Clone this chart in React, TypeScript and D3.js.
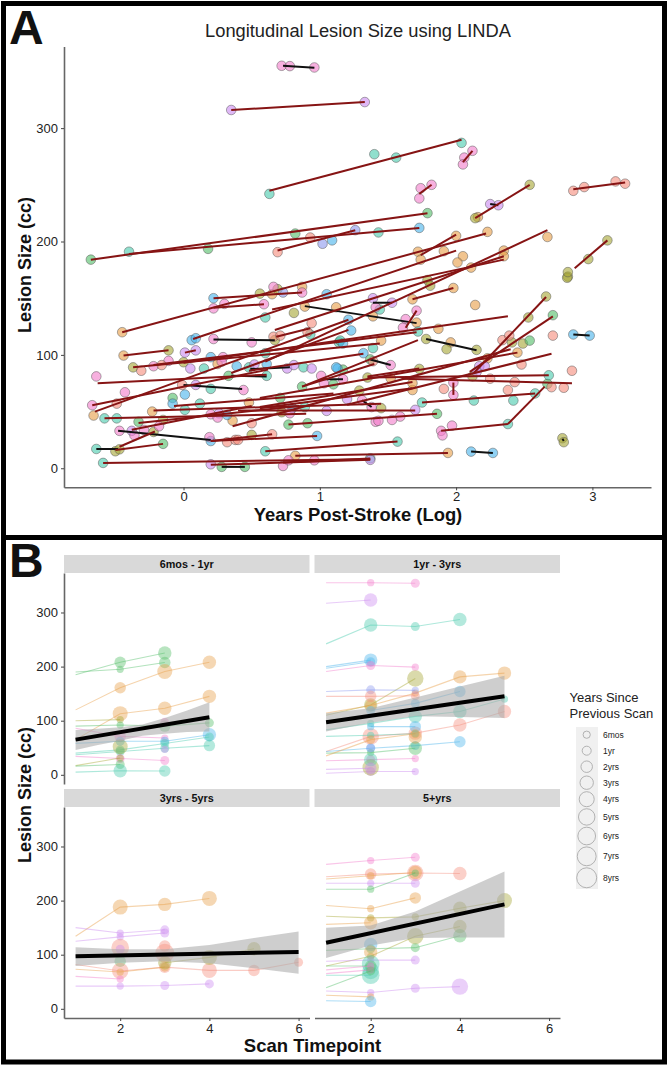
import React, { useRef, useEffect } from "react";
import * as d3 from "d3";

type Scan = [number, number];
type Fit = [number, number, number, number];
type Track = [string, (number | null)[], number[]];
type Band = [number, number, number];

// panel A: [log years post-stroke, lesion size], grouped by subject hue
const orangeScans: Scan[] = [[-0.45,120],[0.65,153.5],[0.87,160],[0.89,142.6],[1.12,142],[-0.44,99.4],[0.25,92],[-0.66,46.5],[0.48,58],[1.68,149],[1.98,159],[2.14,144],[1.39,134],[1.71,128.5],[1.87,123],[1.45,112.6],[1.96,111],[2.45,102],[2.23,97],[1.52,79.4],[1.68,69],[1.68,75],[1.94,13.5],[0.82,11],[0.36,42],[-0.23,50],[2.0,205],[2.23,208.5],[1.72,191],[1.74,184],[1.91,191.5],[2.05,187],[2.01,181.5],[2.11,177],[2.35,192],[2.35,187],[2.67,204],[2.16,221.5]];
const oliveScans: Scan[] = [[-0.11,104],[-0.37,89],[0.56,154],[0.69,158],[0.67,113],[0.81,137],[0,93.5],[0.72,49.4],[-0.15,42.6],[-0.22,32],[0.5,29.4],[-0.5,15],[1.79,166],[1.81,161],[2.82,169],[2.815,168],[2.66,151.5],[2.53,133],[1.78,114],[1.93,105],[2.15,104.4],[2.41,111],[2.49,110],[2.12,81],[1.35,80],[1.73,87.6],[1.29,68.5],[1.45,53],[2.78,26.5],[2.79,23],[3.11,201],[2.97,184.5],[2.82,173],[2.54,250],[2.14,220.6],[-0.47,16.7]];
const greenScans: Scan[] = [[-0.68,184],[0.18,193.5],[0.82,207],[1.79,225],[0.33,81.5],[0.87,72],[1.1,74],[-0.08,62],[0.71,62],[-0.33,41],[0.77,38.5],[0.91,39.7],[-0.15,21.5],[0.28,1.2],[0.45,1.2],[1.86,48],[1.37,96],[1.17,87],[2.71,135],[2.54,112.6],[2.67,74.4]];
const tealScans: Scan[] = [[0.63,242],[2.04,287],[1.4,277],[1.56,274],[-0.4,191],[1.43,208],[0.6,133],[0.93,118],[1.14,111],[0.6,101.5],[0.15,88],[0.48,89],[0.88,89],[0.61,81.5],[0.12,57],[0.01,51.5],[0.89,54],[-0.49,44],[-0.58,44],[0.2,70],[-0.64,17],[-0.59,4.7],[0.6,15],[1.44,140],[1.72,120.6],[1.15,112.6],[1.39,106],[2.68,82],[2.58,66],[2.42,59.7],[2.13,59.7],[1.75,58],[2.38,39],[1.57,23.5],[1.37,8.8]];
const blueScans: Scan[] = [[1.73,212],[1.09,201],[0.22,150],[1.05,153.5],[0.06,113],[0.09,114.7],[0.2,98],[0.39,90],[0.61,92],[1.13,88],[0.01,65],[-0.08,57],[0.8,53],[0.32,47],[0.2,24],[0.98,28.5],[1.21,131],[1.23,121.5],[1.17,110],[1.32,101.5],[1.12,89],[2.86,118],[2.98,117],[2.11,14.7],[2.27,13.5]];
const periwinkleScans: Scan[] = [[1.26,210],[1.02,198],[0.73,155]];
const lilacScans: Scan[] = [[0.35,316],[1.33,323],[2.31,232],[2.25,233],[0.01,102],[0.09,104],[0.05,88],[0.52,91.5],[0.76,88],[0.81,91],[0.94,88],[0.09,73.5],[0.26,48.5],[1.05,50.6],[-0.38,33],[1.53,146],[1.39,150],[2.17,90],[2.21,90],[2.15,85],[1.2,61],[1.7,51.5],[0.2,3.5],[1.37,7.4]];
const pinkScans: Scan[] = [[0.72,355],[0.78,354.7],[0.96,353.5],[2.12,280],[2.06,274],[2.05,268],[1.82,250],[1.74,247],[1.73,238],[0.22,141],[0.3,145],[0.59,144.7],[0.66,160],[0.87,155],[0.22,114],[0.5,111],[0.29,98],[-0.22,90],[-0.11,94.7],[0.28,94],[-0.64,81],[1.01,81.5],[1.03,75],[-0.43,67],[0.44,69],[-0.67,55.6],[0.2,47.6],[0.25,44.7],[0.78,48.5],[-0.47,33],[-0.29,33.8],[-0.36,29],[-0.18,37],[0.19,27.4],[0.73,2],[0.77,7],[0.96,7],[1.71,139],[1.63,131.5],[1.61,124],[1.41,142],[1.52,91],[1.17,78.5],[1.98,75.6],[1.98,64.7],[1.31,60],[1.38,54],[1.59,45.6],[1.53,42.6],[1.41,41],[1.43,41.8],[1.97,37.6],[1.89,33],[1.9,29]];
const salmonScans: Scan[] = [[0.69,190.6],[0.93,203.5],[2.86,244.7],[2.94,248],[3.17,253],[3.24,251],[0.66,116],[0.71,117],[0.94,128],[0.91,120],[-0.31,86],[-0.16,91],[-0.49,57],[-0.01,73.5],[0.5,39.7],[0.32,23],[0.38,25],[0.4,25],[0.65,30],[1.39,94.4],[2.34,113],[2.39,117],[2.71,117],[2.85,86],[2.48,91.5],[1.91,70],[2.25,79],[2.43,76],[2.38,69],[2.7,71.5],[2.79,71]];

const scansByHue: [string, Scan[]][] = [
  ["orange", orangeScans], ["olive", oliveScans], ["green", greenScans], ["teal", tealScans],
  ["blue", blueScans], ["periwinkle", periwinkleScans], ["lilac", lilacScans], ["pink", pinkScans], ["salmon", salmonScans],
];

// panel A: per-subject fits [x1, y1, x2, y2]
const risingFits: Fit[] = [[-0.45,120,2.22,207],[0.07,114,2.0,192],[1.74,188,2.0,206],[0.6,94,2.67,210],[0.65,140,2.35,184],[0.67,122,2.35,187],[0.22,150,0.87,155],[0.22,141.5,0.59,144.7],[-0.44,99.5,-0.11,104],[0.01,102,0.09,104],[-0.37,89,1.44,110],[-0.22,91,1.71,120],[0,93,2.38,134],[-0.63,75,0.61,82.5],[-0.67,55.5,0.62,87],[-0.65,50,1.21,131],[0.35,84,1.21,122],[0.48,86,1.32,101],[0.87,72,1.72,113],[1.35,81,1.73,88],[1.35,80,2.68,82],[1.6,79,2.85,75],[-0.22,51,1.45,57],[-0.07,55,1.1,66],[-0.58,44,0.9,48],[-0.33,40,0.85,55],[-0.38,34,0.5,55],[0.56,62,2.45,102],[0.56,54,1.68,76],[0.56,53,1.68,70.5],[0.36,37,2.4,105],[1.2,56,2.7,101],[0.4,51,1.7,51],[-0.5,16,-0.15,21.5],[-0.47,19,-0.21,32.4],[0.2,24,0.98,28.5],[0.2,24,0.65,30],[0.77,38.5,1.86,48],[-0.59,4.7,1.37,8],[0.2,3,1.37,7.5],[0.6,15,1.57,23.5],[0.82,11,1.94,13.5],[0.73,5,1.37,8.5],[-0.68,184,1.79,225],[-0.4,189,1.73,212],[0.69,192,1.26,210],[0.63,244.7,2.04,289.7],[0.35,316,1.33,323],[2.05,270,2.12,280],[1.73,242,1.82,250],[2.14,220.6,2.54,250],[2.86,246,3.24,252],[2.87,176.5,3.11,201],[1.68,149,1.98,159],[2.13,84,2.66,151],[2.1,85,2.71,134],[0.68,116,0.93,123.5],[1.75,58,2.58,66],[1.89,33,2.38,39],[2.38,39,2.65,72],[1.98,75.6,1.98,64.7],[1.63,124,1.71,139],[0.87,72,1.4,92]];
const fallingFits: Fit[] = [[0.73,355,0.96,353.3],[-0.64,17,-0.48,17],[-0.48,33,0.2,25],[0.28,1.2,0.45,1.2],[0.22,113.5,0.67,113],[0,73.5,0.43,70],[0.35,81.5,0.61,81],[1.01,78.5,1.17,78.5],[0.89,143,1.71,128],[1.39,146,1.53,146],[1.78,114,2.15,104],[2.11,14.7,2.27,13.5],[2.86,118,2.98,117],[1.37,96,1.52,91],[1.31,60,1.38,54],[2.78,26,2.79,24],[2.25,233,2.31,232],[0.49,87.5,0.78,89]];

const axisTicksA = [0, 100, 200, 300];
const yearTicks = [0, 1, 2, 3];
const timepointTicks = [2, 4, 6];

// panel B: [hue, size at timepoints 1.., years since previous scan from timepoint 2]
const tracks6mos: Track[] = [
  ["green",[185,208,225],[2,3]],["green",[190,195,207.5],[0.5,2]],["orange",[120,161,191,208],[2,4,3]],
  ["orange",[65,113,123,145],[4,3,3]],["olive",[100,102],[0.5]],["green",[90,92,90,96],[0.5,2,1]],
  ["pink",[86,71,68],[2,0.5]],["blue",[58,62,62,74],[1,1,3]],["teal",[40,46,58,70],[1,1,1]],
  ["teal",[37,43,49,54],[1,1,2]],["olive",[null,52],[4]],["pink",[34,30,26.5],[1,1]],["olive",[17,31],[0.5]],
  ["green",[16,19],[1]],["teal",[5,7.5,7],[3,2]],["lilac",[null,null,47],[0.5]],["pink",[null,null,97],[1]],
];
const tracks1yr: Track[] = [
  ["pink",[355,355,354],[0.5,1]],["lilac",[317,323],[3]],["teal",[242,277,274,287],[3,1,3]],
  ["blue",[200,212],[3]],["blue",[197,209],[1]],["pink",[191,202,199],[1,0.5]],["olive",[110,129,178],[3,5]],
  ["orange",[114,128,151,181,188],[2,0.5,3,3]],["periwinkle",[154,157,156],[1,0.5]],["salmon",[145,145,146],[2,1]],
  ["blue",[null,119,132,154],[1,1,2]],["teal",[83,95,108,117,140],[0.5,3,3,0.5]],["salmon",[43,71,77,92,117],[5,3,3,3]],
  ["blue",[43,49,54,61],[1,1,2]],["green",[40,41,49],[0.5,3]],["pink",[26,28,30],[1,0.5]],["lilac",[3,6,6],[1,0.5]],
  ["olive",[null,13.5],[5]],["teal",[null,28],[3]],["orange",[null,null,70],[3]],["blue",[null,89,89],[0.5,2]],
  ["periwinkle",[null,50],[1]],["teal",[71,73,76],[0.5,0.5]],["orange",[35,65,76],[1,1]],["lilac",[10,12],[2]],
];
const tracks3yrs: Track[] = [
  ["orange",[134,188,193,204],[4,3,4]],["lilac",[150,140,146],[0.5,1]],["lilac",[125,133,140],[0.5,1]],
  ["salmon",[null,113],[6]],["salmon",[null,null,103],[7]],["lilac",[null,110],[1]],["green",[null,88],[2]],
  ["salmon",[82,70,77,71,71,86],[5,2,4,2,1]],["orange",[73,68,77],[0.5,1]],["olive",[null,null,85,95,111],[3,4,3]],
  ["lilac",[42,42,43,46],[0.5,1,1]],["pink",[60,55],[0.5]],["salmon",[null,null,116],[2]],
];
const tracks5yrs: Track[] = [
  ["pink",[267,274,280],[0.5,1]],["salmon",[244,249,251,250],[2,5,3]],["orange",[240,246,252],[0.5,3]],
  ["lilac",[232,232,232],[0.5,1]],["green",[221,221,251],[0.5,0.5]],["orange",[191,185,205],[0.5,2]],
  ["olive",[171,168,170,186,200],[0.5,0.5,3,4]],["orange",[156,159],[3]],["olive",[79,97,134,152],[0.5,5,3]],
  ["green",[108,111,113,135],[1,1,3]],["blue",[null,119],[3]],["orange",[null,105],[3]],["lilac",[88,90,90],[0.5,1]],
  ["teal",[null,83],[6]],["teal",[null,70],[5]],["teal",[62,62],[6]],["green",[79,79],[2]],["pink",[65,72],[0.5]],
  ["pink",[72,79],[0.5]],["green",[39,70],[1]],["lilac",[33,30,38,41],[0.5,1,5]],["orange",[25,22],[0.5]],["blue",[15,13.5],[2]],
];

// fitted line and confidence band: [timepoint, low, high]
const fit6mos: [number, number][] = [[1,65],[4,106.5]];
const band6mos: Band[] = [[1,46,83],[1.5,55,85],[2,63,88],[2.5,72,93],[3,76,105],[3.5,79,119],[4,80,134]];
const fit1yr: [number, number][] = [[1,97],[5,145]];
const band1yr: Band[] = [[1,80,114],[2,96,123],[3,108,143],[4,107,163],[5,105,183]];
const fit3yrs: [number, number][] = [[1,97],[6,105]];
const band3yrs: Band[] = [[1,79,114],[2,85,110],[3,88,110],[4,84,118],[5,75,131],[6,65,143]];
const fit5yrs: [number, number][] = [[1,122],[5,193]];
const band5yrs: Band[] = [[1,94,150],[2,117,154],[3,131,180],[4,132,217],[5,132,254]];

const legendYears = [0.5, 1, 2, 3, 4, 5, 6, 7, 8];
const legendLabels = ["6mos", "1yr", "2yrs", "3yrs", "4yrs", "5yrs", "6yrs", "7yrs", "8yrs"];

const FONT = "'Liberation Sans', Arial, sans-serif";

const hueColor = d3
  .scaleOrdinal<string, string>()
  .domain(["orange", "olive", "green", "teal", "blue", "periwinkle", "lilac", "pink", "salmon"])
  .range(["#E8A04A", "#A8A838", "#55BF6A", "#4CCBAF", "#4CB4EC", "#8F9BEF", "#CC8CF0", "#F27FCC", "#F58E7E"]);

const sizeScale = d3.scaleSqrt().domain([0, 8]).range([1.5, 10]);

function styleAxis(g: any) {
  g.selectAll(".domain").attr("stroke", "#666").attr("stroke-width", 1.6);
  g.selectAll(".tick line").attr("stroke", "#444");
  g.selectAll(".tick text").attr("font-family", FONT).attr("font-size", 13).attr("fill", "#222");
}

function label(svg: any, text: string, x: number, y: number, size: number, weight = "normal", anchor = "start", rotate = false) {
  svg
    .append("text")
    .text(text)
    .attr("transform", `translate(${x},${y})${rotate ? " rotate(-90)" : ""}`)
    .attr("font-family", FONT)
    .attr("font-size", size)
    .attr("font-weight", weight)
    .attr("text-anchor", anchor)
    .attr("fill", weight === "bold" ? "#111" : "#222");
}

function drawPanelA(svg: any) {
  const x = d3.scaleLinear().domain([-0.877, 3.43]).range([64, 651]);
  const y = d3.scaleLinear().domain([-16.8, 372]).range([487.3, 46.5]);

  svg.append("g").attr("transform", "translate(64,0)").call(d3.axisLeft(y).tickValues(axisTicksA).tickSize(3).tickSizeOuter(0)).call(styleAxis);
  svg.append("g").attr("transform", "translate(0,487.3)").call(d3.axisBottom(x).tickValues(yearTicks).tickFormat(d3.format("d")).tickSize(3).tickSizeOuter(0).tickPadding(1.5)).call(styleAxis);

  scansByHue.forEach(([hue, scans]) => {
    svg
      .append("g")
      .selectAll("circle")
      .data(scans)
      .enter()
      .append("circle")
      .attr("cx", (d: Scan) => x(d[0]))
      .attr("cy", (d: Scan) => y(d[1]))
      .attr("r", 4.8)
      .attr("fill", hueColor(hue))
      .attr("fill-opacity", 0.62)
      .attr("stroke", "#555")
      .attr("stroke-opacity", 0.55)
      .attr("stroke-width", 0.9);
  });

  const drawFits = (fits: Fit[], color: string) => {
    svg
      .append("g")
      .selectAll("line")
      .data(fits)
      .enter()
      .append("line")
      .attr("x1", (d: Fit) => x(d[0]))
      .attr("y1", (d: Fit) => y(d[1]))
      .attr("x2", (d: Fit) => x(d[2]))
      .attr("y2", (d: Fit) => y(d[3]))
      .attr("stroke", color)
      .attr("stroke-width", 2);
  };
  drawFits(fallingFits, "#111");
  drawFits(risingFits, "#861414");

  label(svg, "Longitudinal Lesion Size using LINDA", 358, 37, 18.3, "normal", "middle");
  label(svg, "Lesion Size (cc)", 31, 265, 18, "bold", "middle", true);
  label(svg, "Years Post-Stroke (Log)", 358, 521, 18.4, "bold", "middle");
}

function drawFacet(
  svg: any,
  title: string,
  tracks: Track[],
  fit: [number, number][],
  band: Band[],
  left: number,
  top: number,
  showY: boolean,
  showX: boolean,
) {
  const right = left + 245.5;
  const stripH = 18;
  const bottom = top + stripH + 211;
  const x = d3.scaleLinear().domain([0.74, 6.245]).range([left, right]);
  const y = d3.scaleLinear().domain([-17, 373]).range([bottom, top + stripH]);

  svg.append("rect").attr("x", left).attr("y", top).attr("width", right - left).attr("height", stripH).attr("fill", "#D9D9D9");
  label(svg, title, (left + right) / 2, top + 12.5, 10.8, "bold", "middle");

  if (showY) {
    svg.append("g").attr("transform", `translate(${left},0)`).call(d3.axisLeft(y).tickValues(axisTicksA).tickSize(3).tickSizeOuter(0)).call(styleAxis);
  }
  if (showX) {
    svg.append("g").attr("transform", `translate(0,${bottom})`).call(d3.axisBottom(x).tickValues(timepointTicks).tickFormat(d3.format("d")).tickSize(3).tickSizeOuter(0)).call(styleAxis);
  }

  const trackLine = d3
    .line<number | null>()
    .defined((d) => d !== null)
    .x((_, i) => x(i + 1))
    .y((d) => y(d as number));

  tracks.forEach(([hue, values, years]) => {
    svg.append("path").attr("d", trackLine(values)).attr("fill", "none").attr("stroke", hueColor(hue)).attr("stroke-opacity", 0.45).attr("stroke-width", 1.1);
    values.slice(1).forEach((v, i) => {
      if (v === null) return;
      svg
        .append("circle")
        .attr("cx", x(i + 2))
        .attr("cy", y(v))
        .attr("r", sizeScale(years[values.slice(1).slice(0, i).filter((p) => p !== null).length] ?? 0.5))
        .attr("fill", hueColor(hue))
        .attr("fill-opacity", 0.42);
    });
  });

  const area = d3
    .area<Band>()
    .x((d) => x(d[0]))
    .y0((d) => y(d[1]))
    .y1((d) => y(d[2]));
  svg.append("path").attr("d", area(band)).attr("fill", "#AAAAAA").attr("fill-opacity", 0.58);

  const fitLine = d3
    .line<[number, number]>()
    .x((d) => x(d[0]))
    .y((d) => y(d[1]));
  svg.append("path").attr("d", fitLine(fit)).attr("fill", "none").attr("stroke", "#000").attr("stroke-width", 4);
}

function drawLegend(svg: any) {
  label(svg, "Years Since", 569.5, 702, 13);
  label(svg, "Previous Scan", 569.5, 718, 13);
  svg.append("rect").attr("x", 576).attr("y", 727).attr("width", 22).attr("height", 162).attr("fill", "#F0F0F0");

  // keys grow with the circle once it no longer fits the 16px row
  let cursor = 726.7;
  legendYears.forEach((yr, i) => {
    const r = sizeScale(yr);
    const rowH = Math.max(16, r * 2 + 2);
    const cy = cursor + rowH / 2;
    svg.append("circle").attr("cx", 586.7).attr("cy", cy).attr("r", r).attr("fill", "none").attr("stroke", "#AAA").attr("stroke-width", 0.9);
    label(svg, legendLabels[i], 603, cy + 3, 8.5);
    cursor += rowH;
  });
}

const App: React.FC = () => {
  const ref = useRef<SVGSVGElement>(null);

  useEffect(() => {
    const svg = d3.select(ref.current);
    svg.selectAll("*").remove();

    svg.append("rect").attr("width", 669).attr("height", 1066).attr("fill", "#fff");
    svg.append("rect").attr("x", 3.5).attr("y", 3.5).attr("width", 661).attr("height", 534).attr("fill", "none").attr("stroke", "#000").attr("stroke-width", 5);
    svg.append("rect").attr("x", 3.5).attr("y", 537.5).attr("width", 661).attr("height", 524.5).attr("fill", "none").attr("stroke", "#000").attr("stroke-width", 5);

    label(svg, "A", 9, 44, 48, "bold");
    label(svg, "B", 9, 577, 48, "bold");

    drawPanelA(svg);

    drawFacet(svg, "6mos - 1yr", tracks6mos, fit6mos, band6mos, 64, 555, true, false);
    drawFacet(svg, "1yr - 3yrs", tracks1yr, fit1yr, band1yr, 314.5, 555, false, false);
    drawFacet(svg, "3yrs - 5yrs", tracks3yrs, fit3yrs, band3yrs, 64, 789, true, true);
    drawFacet(svg, "5+yrs", tracks5yrs, fit5yrs, band5yrs, 314.5, 789, false, true);

    label(svg, "Lesion Size (cc)", 31, 795, 18, "bold", "middle", true);
    label(svg, "Scan Timepoint", 312.5, 1051.5, 18.5, "bold", "middle");

    drawLegend(svg);
  }, []);

  return <svg ref={ref} width={669} height={1066} style={{ position: "absolute", left: 0, top: 0, display: "block" }} />;
};

export default App;
